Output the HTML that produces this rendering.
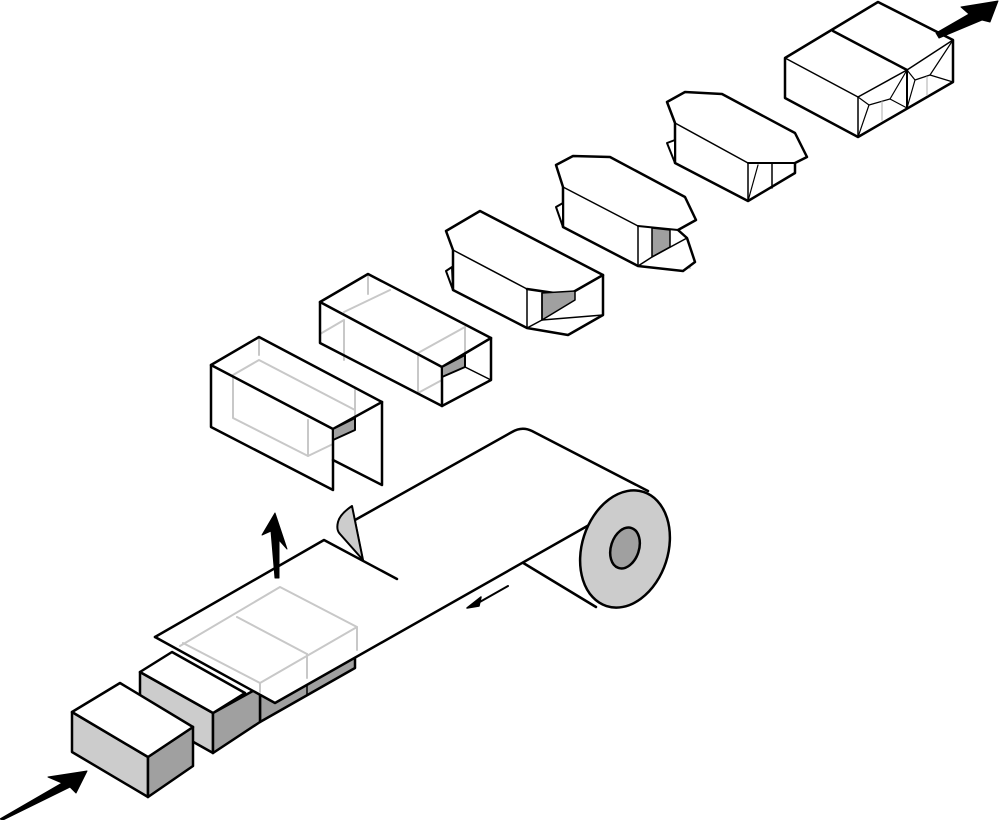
<!DOCTYPE html>
<html><head><meta charset="utf-8"><style>
html,body{margin:0;padding:0;background:#fff;}
svg{display:block;}
</style></head><body>
<svg width="1000" height="820" viewBox="0 0 1000 820" xmlns="http://www.w3.org/2000/svg" stroke-linejoin="round" stroke-linecap="round">
<g fill="none" stroke="#000">

<!-- arrow bottom-left -->
<polygon points="0,819 62,783 48,777 87,771 76,793 70,787 3,820" fill="#000" stroke-width="1"/>

<!-- cube strips under film -->
<polygon points="260,687 355,633 355,668 260,722" fill="#a0a0a0" stroke-width="2.5"/>
<line x1="307" y1="660" x2="307" y2="695" stroke-width="1.5"/>
<line x1="260" y1="687" x2="260" y2="722" stroke-width="1.5"/>

<!-- cube 2 -->
<polygon points="140,672 213,713 213,753 140,712" fill="#ccc" stroke-width="2.5"/>
<polygon points="213,713 260,687 260,722 213,753" fill="#a0a0a0" stroke-width="2.5"/>
<polygon points="140,672 172,652 245,693 213,713" fill="#fff" stroke-width="2.5"/>

<!-- cube 1 -->
<polygon points="72,712 148,757 148,797 72,752" fill="#ccc" stroke-width="2.5"/>
<polygon points="148,757 193,727 193,766 148,797" fill="#a0a0a0" stroke-width="2.5"/>
<polygon points="72,712 120,683 193,727 148,757" fill="#fff" stroke-width="2.5"/>

<!-- roll body -->
<path d="M520,561 L596,607" stroke-width="2.5"/>
<path d="M355,520 L512,432 Q522,426 532,431 L648,491" stroke-width="2.5"/>
<!-- film sheet -->
<polygon points="155,637 324,540 397,579 612,512 648,491 610,513 275,703" fill="#fff" stroke="none"/>
<path d="M155,637 L324,540 L397,579" stroke-width="2.5"/>
<path d="M155,637 L275,703 L612,512" stroke-width="2.5"/>
<!-- roll end face -->
<ellipse cx="625" cy="549" rx="43" ry="60" transform="rotate(18 625 549)" fill="#ccc" stroke-width="2.5"/>
<ellipse cx="625" cy="548" rx="14" ry="21" transform="rotate(18 625 548)" fill="#a0a0a0" stroke-width="2.5"/>

<!-- ghost box on film -->
<g stroke="#c8c8c8" stroke-width="2">
<polyline points="180,646 280,587 357,627 357,650"/>
<polyline points="183,643 260,683 357,627"/>
<line x1="237" y1="617" x2="307" y2="654"/>
<line x1="307" y1="654" x2="307" y2="678"/>
<line x1="260" y1="683" x2="260" y2="692"/>
</g>

<!-- peel curl -->
<path d="M352,506 Q340,514 338,522 Q336,530 340,534 L363,560 Z" fill="#ccc" stroke-width="2"/>
<line x1="355" y1="520" x2="363" y2="560" stroke-width="1.5"/>

<!-- up arrow -->
<polygon points="275,513 262,535 271,531 275,578 279,578 279,540 287,549" fill="#000" stroke="#000" stroke-width="1"/>

<!-- small arrow -->
<line x1="508" y1="586" x2="478" y2="603" stroke-width="2"/>
<polygon points="467,608 481,597 479,606" fill="#000" stroke-width="1.5"/>

<!-- box 1 -->
<g stroke="#c8c8c8" stroke-width="2">
<line x1="259" y1="337" x2="259" y2="355"/>
<polyline points="233,375 259,360 355,410"/>
<polyline points="233,375 233,418 308,456 333,444"/>
<line x1="308" y1="420" x2="308" y2="456"/>
<line x1="355" y1="390" x2="355" y2="420"/>
</g>
<polygon points="211,365 259,337 382,402 333,429" fill="none" stroke-width="2.5"/>
<polyline points="211,365 211,427 333,490 333,429" stroke-width="2.5"/>
<line x1="211" y1="365" x2="333" y2="429" stroke-width="1.5"/>
<polyline points="333,460 382,485 382,402" stroke-width="2.5"/>
<polygon points="333,429 355,418 355,430 333,440" fill="#a0a0a0" stroke-width="2"/>

<!-- box 2 -->
<g stroke="#c8c8c8" stroke-width="2">
<line x1="368" y1="274" x2="368" y2="294"/>
<polyline points="320,334 344,320 344,360"/>
<polyline points="344,312 390,290"/>
<line x1="418" y1="356" x2="418" y2="393"/>
<polyline points="418,393 442,380"/>
<line x1="418" y1="353" x2="465" y2="327"/>
<line x1="465" y1="327" x2="465" y2="355"/>
</g>
<polygon points="320,302 368,274 491,338 442,367" stroke-width="2.5"/>
<polyline points="320,302 320,343 442,406 491,380 491,338" stroke-width="2.5"/>
<line x1="320" y1="302" x2="442" y2="367" stroke-width="1.5"/>
<line x1="442" y1="367" x2="442" y2="406" stroke-width="2.5"/>
<line x1="465" y1="367" x2="491" y2="380" stroke-width="1.5"/>
<polygon points="442,367 465,355 465,367 442,377" fill="#a0a0a0" stroke-width="2"/>

<!-- box 3 -->
<g stroke="#c8c8c8" stroke-width="2">
<line x1="480" y1="211" x2="480" y2="232"/>
<line x1="458" y1="245" x2="500" y2="224"/>
<line x1="575" y1="262" x2="575" y2="284"/>
<line x1="540" y1="282" x2="575" y2="262"/>
<line x1="552" y1="322" x2="580" y2="326"/>
</g>
<polygon points="446,231 480,211 603,275 603,315 568,335 527,328 453,290 453,250" fill="#fff" stroke-width="2.5"/>
<polygon points="446,271 452,267 453,290" fill="#fff" stroke-width="2"/>
<line x1="453" y1="250" x2="527" y2="289" stroke-width="1.5"/>
<polyline points="527,289 568,295 603,275" stroke-width="2.5"/>
<line x1="527" y1="289" x2="527" y2="328" stroke-width="1.5"/>
<polygon points="542,293 575,291 575,300 542,320" fill="#a0a0a0" stroke-width="1.5"/>
<polyline points="527,328 542,320 603,315" stroke-width="1.5"/>
<line x1="542" y1="293" x2="542" y2="320" stroke-width="1.5"/>

<!-- box 4 -->
<g stroke="#c8c8c8" stroke-width="2">
<line x1="570" y1="182" x2="610" y2="158"/>
<line x1="578" y1="158" x2="590" y2="170"/>
<line x1="643" y1="221" x2="685" y2="200"/>
<line x1="672" y1="207" x2="672" y2="226"/>
<line x1="687" y1="204" x2="687" y2="220"/>
<line x1="665" y1="255" x2="690" y2="268"/>
</g>
<polygon points="556,165 573,156 610,157 685,197 696,220 678,230 687,238 695,262 683,271 638,266 563,227 563,187" fill="#fff" stroke-width="2.5"/>
<polygon points="556,207 563,203 563,227" fill="#fff" stroke-width="2"/>
<line x1="563" y1="187" x2="638" y2="226" stroke-width="1.5"/>
<polyline points="638,226 678,230" stroke-width="2"/>
<line x1="638" y1="226" x2="638" y2="266" stroke-width="1.5"/>
<polygon points="652,228 670,230 670,247 652,257" fill="#a0a0a0" stroke-width="1.5"/>
<polyline points="638,266 652,257 687,238" stroke-width="1.5"/>

<!-- box 5 -->
<g stroke="#c8c8c8" stroke-width="2">
<line x1="675" y1="122" x2="722" y2="96"/>
<line x1="690" y1="95" x2="700" y2="106"/>
<line x1="756" y1="160" x2="795" y2="140"/>
<line x1="780" y1="146" x2="780" y2="165"/>
<line x1="760" y1="190" x2="760" y2="170"/>
</g>
<polygon points="667,102 685,92 722,94 795,133 807,157 795,163 795,173 748,201 675,163 675,123" fill="#fff" stroke-width="2.5"/>
<polygon points="667,143 675,140 675,163" fill="#fff" stroke-width="2"/>
<line x1="675" y1="123" x2="748" y2="163" stroke-width="1.5"/>
<polyline points="748,163 795,163" stroke-width="2"/>
<line x1="748" y1="163" x2="748" y2="201" stroke-width="1.5"/>
<line x1="748" y1="201" x2="758" y2="165" stroke-width="1.2"/>
<line x1="772" y1="164" x2="772" y2="188" stroke-width="1.5"/>

<!-- box 6 -->
<polygon points="785,58 878,2 953,40 953,82 858,137 785,98" fill="#fff" stroke-width="2.5"/>
<line x1="785" y1="58" x2="858" y2="97" stroke-width="1.5"/>
<line x1="833" y1="31" x2="907" y2="70" stroke-width="2.5"/>
<polyline points="858,97 907,70 953,40" stroke-width="1.5"/>
<line x1="858" y1="97" x2="858" y2="137" stroke-width="1.5"/>
<line x1="907" y1="70" x2="907" y2="108" stroke-width="2"/>
<polyline points="858,137 869,105 890,99 907,70" stroke-width="1.2"/>
<polyline points="907,108 915,80 930,75 953,40" stroke-width="1.2"/>
<line x1="869" y1="105" x2="858" y2="97" stroke-width="1.2"/>
<line x1="890" y1="99" x2="907" y2="108" stroke-width="1.2"/>
<line x1="915" y1="80" x2="907" y2="70" stroke-width="1.2"/>
<line x1="930" y1="75" x2="953" y2="82" stroke-width="1.2"/>
<line x1="882" y1="102" x2="882" y2="120" stroke="#c8c8c8" stroke-width="1.5"/>
<line x1="927" y1="77" x2="927" y2="95" stroke="#c8c8c8" stroke-width="1.5"/>

<!-- top-right arrow -->
<polygon points="936,33 969,14 961,7 998,1 990,22 982,20 939,38" fill="#000" stroke-width="1"/>
</g>
</svg>
</body></html>
